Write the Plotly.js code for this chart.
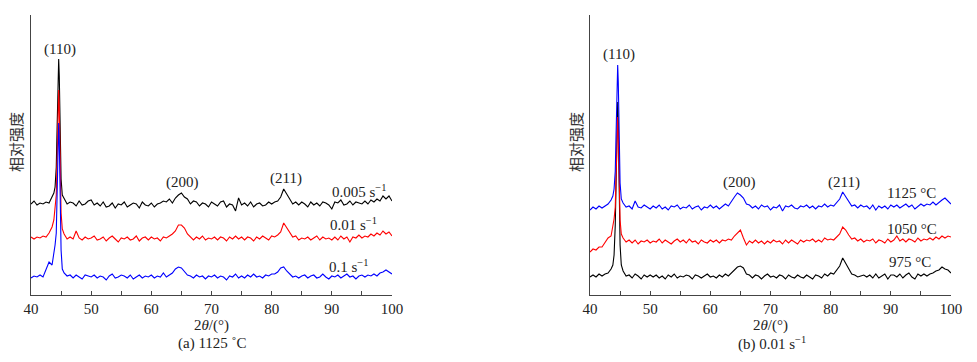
<!DOCTYPE html>
<html>
<head>
<meta charset="utf-8">
<script src="https://cdn.plot.ly/plotly-3.0.1.min.js"></script>
<style>html,body{margin:0;padding:0;background:#fff;}#chart{width:977px;height:362px;}</style>
</head>
<body>
<div id="chart"></div>
<script>
// 2θ grid (degrees)
const twoTheta = [40,40.5,41,41.5,42,42.5,43,43.5,
  43.8,44.0,44.2,44.3,44.4,44.5,44.6,44.7,44.8,44.9,45.0,45.2,
  45.5,46,46.5,47,47.5,48,48.5,49,49.5,50,
  50.5,51,51.5,52,52.5,53,53.5,54,54.5,55,
  55.5,56,56.5,57,57.5,58,58.5,59,59.5,60,
  60.5,61,61.5,62,62.5,63,63.5,64,64.5,65,
  65.5,66,66.5,67,67.5,68,68.5,69,69.5,70,
  70.5,71,71.5,72,72.5,73,73.5,74,74.5,75,
  75.5,76,76.5,77,77.5,78,78.5,79,79.5,80,
  80.5,81,81.5,82,82.5,83,83.5,84,84.5,85,
  85.5,86,86.5,87,87.5,88,88.5,89,89.5,90,
  90.5,91,91.5,92,92.5,93,93.5,94,94.5,95,
  95.5,96,96.5,97,97.5,98,98.5,99,99.5,100];

// Panel (a) 1125 °C — relative intensity (offset stacked, arbitrary units)
const rate0005 = [91,94,90,92,91,93,92,98,
  102,108,128,157,193,224,236,219,178,142,116,100,
  96,91,93,92,89,94,90,91,94,95,
  90,92,89,93,88,89,92,87,91,90,
  93,88,90,92,91,87,93,90,89,92,
  88,91,92,94,93,96,92,97,100,102,
  98,96,91,94,93,89,92,91,88,93,
  91,89,93,94,88,91,90,84,97,90,
  92,89,93,88,91,92,89,90,93,91,
  93,94,98,106,101,96,91,93,90,93,
  91,88,93,90,92,89,93,92,90,86,
  93,92,95,90,91,94,90,93,92,91,
  94,91,95,93,96,94,99,96,99,94];
const rate001 = [58,56,58,57,59,58,62,68,
  75,85,100,124,161,193,205,187,146,109,82,66,
  61,56,58,56,64,57,55,58,56,57,
  59,55,56,58,54,57,59,56,53,57,
  56,58,55,56,59,54,57,58,55,58,
  56,57,54,58,57,59,61,64,70,70,
  67,61,58,55,58,56,59,55,57,56,
  58,55,58,57,54,58,56,59,56,58,
  55,58,57,54,58,56,59,57,55,59,
  58,60,63,72,67,62,58,59,55,57,
  56,58,55,57,59,55,58,56,57,55,
  58,55,59,56,58,53,58,57,60,57,
  59,58,61,59,62,60,64,61,63,59];
const rate01 = [17,19,18,20,18,25,33,30,
  40,50,62,87,126,160,172,154,110,72,45,26,
  22,19,20,17,20,18,16,20,19,18,
  20,17,19,18,15,19,21,17,18,20,
  19,17,20,16,18,20,17,19,18,20,
  17,19,18,22,18,20,22,26,28,27,
  24,20,19,17,20,18,19,16,19,18,
  20,17,19,18,15,19,18,21,17,19,
  17,20,18,21,18,19,17,20,19,21,
  21,23,27,28,24,21,18,19,17,19,
  20,17,19,20,17,18,21,18,16,19,
  18,20,17,19,21,18,19,16,19,20,
  18,20,19,21,19,22,23,25,23,21];

// Panel (b) 0.01 s^-1
const temp1125 = [85,88,86,89,87,89,91,95,
  99,106,124,152,187,219,230,213,173,138,112,96,
  92,88,89,86,94,88,87,90,88,86,
  89,87,90,86,88,85,89,88,90,86,
  88,87,90,86,88,89,85,88,87,90,
  87,89,86,89,91,89,94,98,102,100,
  97,91,90,87,89,86,90,88,89,85,
  88,87,90,84,89,88,90,87,86,89,
  88,90,87,89,86,89,88,91,88,90,
  89,92,96,103,98,93,89,90,87,90,
  88,89,86,90,85,89,87,89,86,90,
  88,90,87,89,91,88,90,86,89,91,
  89,91,90,93,90,93,95,97,94,91];
const temp1050 = [43,46,45,48,48,52,57,59,
  68,76,88,110,141,168,178,163,128,97,75,61,
  57,53,55,52,55,51,54,53,55,52,
  54,53,56,52,55,53,51,54,56,53,
  55,52,56,53,54,51,55,53,52,55,
  53,55,52,55,54,56,55,59,62,65,
  57,50,54,52,55,52,54,51,54,52,
  55,53,54,51,55,52,55,53,51,55,
  53,55,54,56,53,55,53,57,55,56,
  55,58,61,68,65,60,56,57,54,56,
  53,55,54,56,52,55,54,52,56,53,
  55,59,54,56,53,56,55,53,57,54,
  56,55,57,55,58,56,59,57,59,58];
const temp975 = [18,20,18,21,19,21,22,26,
  30,40,70,97,141,179,193,172,123,80,50,30,
  24,19,20,17,21,19,16,20,18,20,
  18,20,17,19,16,20,18,21,17,19,
  18,20,19,16,20,19,17,19,21,18,
  19,17,20,18,21,19,22,24,28,29,
  27,21,20,17,20,19,16,19,21,18,
  19,17,20,19,16,20,18,17,20,18,
  17,20,18,16,20,19,17,21,19,22,
  21,25,29,37,32,26,21,20,18,19,
  20,18,20,17,21,17,19,21,16,20,
  20,18,21,17,20,22,18,16,21,19,
  21,19,21,22,24,25,28,26,25,22];

const seriesA = [
  {name:'0.005 s⁻¹', y:rate0005, color:'#000000'},
  {name:'0.01 s⁻¹', y:rate001, color:'#ff0000'},
  {name:'0.1 s⁻¹', y:rate01, color:'#0000ff'}
];
const seriesB = [
  {name:'975 °C', y:temp975, color:'#000000'},
  {name:'1050 °C', y:temp1050, color:'#ff0000'},
  {name:'1125 °C', y:temp1125, color:'#0000ff'}
];

const traces = [];
seriesA.forEach(s => traces.push({x:twoTheta, y:s.y, type:'scatter', mode:'lines', name:s.name,
  line:{color:s.color, width:1.1}, xaxis:'x', yaxis:'y', hoverinfo:'skip'}));
seriesB.forEach(s => traces.push({x:twoTheta, y:s.y, type:'scatter', mode:'lines', name:s.name,
  line:{color:s.color, width:1.1}, xaxis:'x2', yaxis:'y2', hoverinfo:'skip'}));

const serif = 'Liberation Serif, Times New Roman, serif';
const axisColor = '#444';
function xAx(domain, anchor){
  return {domain:domain, anchor:anchor, range:[40,100], showline:true, linecolor:axisColor, linewidth:1.5,
    ticks:'inside', ticklen:4, tickcolor:axisColor, tickwidth:1, tick0:40, dtick:10,
    minor:{dtick:5, ticks:'inside', ticklen:4, tickcolor:axisColor},
    showgrid:false, zeroline:false, fixedrange:true,
    tickfont:{family:serif, size:15, color:'#222'},
    title:{text:'2<i>θ</i>/(°)', font:{family:serif, size:15, color:'#222'}, standoff:0}};
}
function yAx(domain, anchor){
  return {domain:domain, anchor:anchor, range:[0,280], showline:true, linecolor:axisColor, linewidth:1.5,
    ticks:'', showticklabels:false, showgrid:false, zeroline:false, fixedrange:true};
}
const yDom = [0.1851, 0.9586];
const lab = {family:serif, size:15, color:'#222'};
function ann(xref, yref, x, y, text, xanchor){
  return {xref:xref, yref:yref, x:x, y:y, text:text, showarrow:false, font:lab, xanchor:xanchor||'center', yanchor:'middle'};
}
const annotations = [
  ann('x','y',44.8,245,'(110)'), ann('x','y',65.2,112,'(200)'), ann('x','y',82.3,116,'(211)'),
  ann('x','y',99.5,104,'0.005 s<sup>−1</sup>','right'),
  ann('x','y',97.8,71,'0.01 s<sup>−1</sup>','right'),
  ann('x','y',96.5,29,'0.1 s<sup>−1</sup>','right'),
  ann('x2','y2',44.8,240,'(110)'), ann('x2','y2',64.8,112,'(200)'), ann('x2','y2',82.2,112,'(211)'),
  ann('x2','y2',97.8,102,'1125 °C','right'),
  ann('x2','y2',98,66,'1050 °C','right'),
  ann('x2','y2',97,33,'975 °C','right'),
  {xref:'paper', yref:'paper', x:15/977, y:(362-142)/362, text:'相对强度', textangle:-90, showarrow:false,
    font:{family:'Noto Sans CJK SC', size:15, color:'#333'}, xanchor:'center', yanchor:'middle'},
  {xref:'paper', yref:'paper', x:575/977, y:(362-142)/362, text:'相对强度', textangle:-90, showarrow:false,
    font:{family:'Noto Sans CJK SC', size:15, color:'#333'}, xanchor:'center', yanchor:'middle'},
  {xref:'paper', yref:'paper', x:212/977, y:(362-343)/362, text:'(a) 1125 ˚C', showarrow:false, font:lab, xanchor:'center', yanchor:'middle'},
  {xref:'paper', yref:'paper', x:772/977, y:(362-343)/362, text:'(b) 0.01 s<sup>−1</sup>', showarrow:false, font:lab, xanchor:'center', yanchor:'middle'}
];

const layout = {
  width:977, height:362, margin:{l:0, r:0, t:0, b:0},
  paper_bgcolor:'#ffffff', plot_bgcolor:'#ffffff', showlegend:false,
  xaxis: xAx([31/977, 392/977], 'y'),
  yaxis: yAx(yDom, 'x'),
  xaxis2: xAx([590/977, 951/977], 'y2'),
  yaxis2: yAx(yDom, 'x2'),
  annotations: annotations
};
Plotly.newPlot('chart', traces, layout, {displayModeBar:false, staticPlot:true});
</script>
</body>
</html>
